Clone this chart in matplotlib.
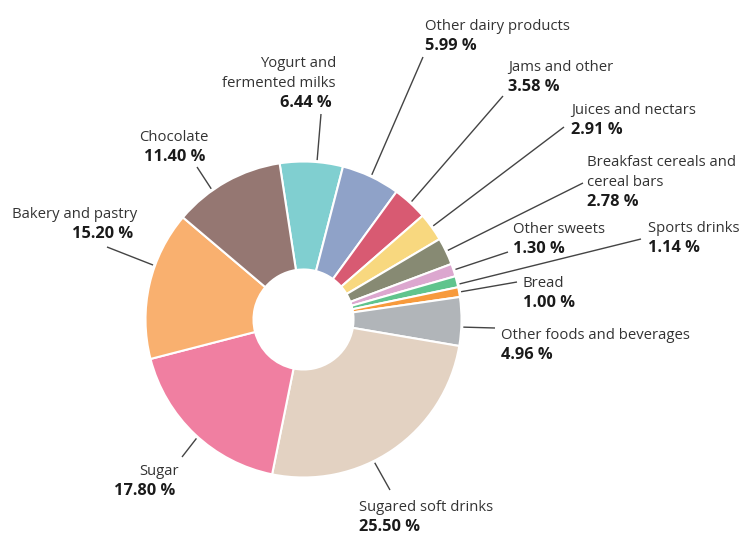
import matplotlib.pyplot as plt
import numpy as np

# shares of added sugar intake, clockwise from the top
categories = ["Yogurt and\nfermented milks", "Other dairy products", "Jams and other",
              "Juices and nectars", "Breakfast cereals and\ncereal bars", "Other sweets",
              "Sports drinks", "Bread", "Other foods and beverages",
              "Sugared soft drinks", "Sugar", "Bakery and pastry", "Chocolate"]
shares = [6.44, 5.99, 3.58, 2.91, 2.78, 1.30, 1.14, 1.00, 4.96, 25.50, 17.80, 15.20, 11.40]
colors = ["#80cfd0", "#8fa2c8", "#d85a72", "#f8d87f", "#878a73", "#dca7cf",
          "#5fc48d", "#f79a3c", "#b1b5b9", "#e3d2c2", "#f07fa1", "#f9b06f", "#957772"]

W, H = 741, 540
cx, cy, R, hole = 303.5, 319.5, 158, 50

# label layout in pixels (x, first baseline, alignment), leader end, leader angle shift
label_pos = [(336, 67, "right"), (425, 30, "left"), (508, 71, "left"),
             (571, 114, "left"), (587, 166, "left"), (513, 233, "left"),
             (648, 232, "left"), (523, 287, "left"), (501, 339, "left"),
             (359, 511, "left"), (179, 475, "right"), (137, 218, "right"),
             (209, 141, "right")]
leader_end = [(321, 114), (423, 57), (503, 96), (564, 127), (583, 183), (508, 252),
              (641, 239), (517, 282), (495, 328), (390, 490), (182, 457),
              (107, 247), (197, 167)]
leader_shift = [-2, 0, 0, 0, 0, 0, -1, 0, -2, -8, 1.5, -7, 6]

plt.rcParams['font.family'] = ['Open Sans', 'DejaVu Sans']

fig = plt.figure(figsize=(W / 100, H / 100), dpi=100)
ax = fig.add_axes([0, 0, 1, 1])

wedges, _ = ax.pie(shares, colors=colors, startangle=98.7, counterclock=False,
                   center=(cx, H - cy), radius=R,
                   wedgeprops=dict(width=R - hole, edgecolor="white", linewidth=1.5))
ax.set_xlim(0, W)
ax.set_ylim(0, H)
ax.set_aspect("equal")
ax.axis("off")

for i, w in enumerate(wedges):
    ang = np.deg2rad((w.theta1 + w.theta2) / 2 + leader_shift[i])
    x0 = cx + (R + 2) * np.cos(ang)
    y0 = (H - cy) + (R + 2) * np.sin(ang)
    ex, ey = leader_end[i]
    ax.plot([x0, ex], [y0, H - ey], color="#444444", lw=1.0, solid_capstyle="butt")

    tx, ty, ha = label_pos[i]
    lines = categories[i].split("\n")
    for k, ln in enumerate(lines):
        ax.text(tx, H - (ty + 20 * k), ln, ha=ha, va="baseline",
                fontsize=10.7, color="#333333")
    px = tx - 4 if ha == "right" else tx
    ax.text(px, H - (ty + 20 * len(lines)), f"{shares[i]:.2f} %", ha=ha,
            va="baseline", fontsize=11.8, fontweight="bold", color="#1a1a1a")

plt.savefig("out.png", dpi=100)
